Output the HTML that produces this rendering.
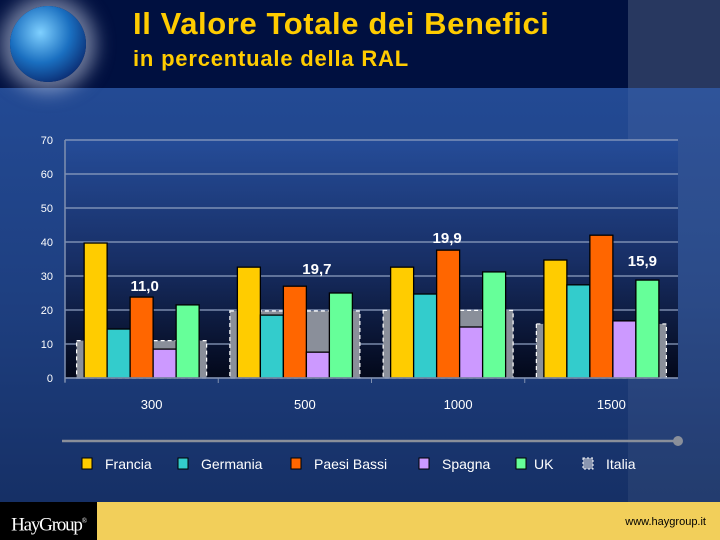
<!DOCTYPE html>
<html><head><meta charset="utf-8"><style>
html,body{margin:0;width:720px;height:540px;overflow:hidden}
body{font-family:"Liberation Sans",sans-serif;background:linear-gradient(#234a94 88px,#1e3f80 300px,#163066 500px);position:relative}
.hdr{position:absolute;left:0;top:0;width:628px;height:88px;background:#001040}
.hdr2{position:absolute;left:628px;top:0;width:92px;height:88px;background:#283860}
.strip{position:absolute;left:628px;top:88px;width:92px;height:414px;background:rgba(255,255,255,0.06)}
.t1{position:absolute;left:133px;top:6px;color:#ffcc00;font-weight:bold;font-size:31px;letter-spacing:0.6px}
.t2{position:absolute;left:133px;top:46px;color:#ffcc00;font-weight:bold;font-size:22px;letter-spacing:0.8px}
.globe{position:absolute;left:10px;top:6px;width:76px;height:76px;border-radius:50%;background:radial-gradient(circle at 40% 35%,#7fd0ff,#1a6fc0 45%,#0a2a70 80%);box-shadow:0 0 18px 10px rgba(200,210,230,0.55)}
.foot{position:absolute;left:0;top:502px;width:720px;height:38px;background:#f2cf5a}
.logo{position:absolute;left:0;top:502px;width:97px;height:38px;background:#000;color:#fff;font-family:"Liberation Serif",serif;font-size:19px;line-height:38px;text-align:center;letter-spacing:-1.2px}
.url{position:absolute;right:14px;top:516px;font-size:11px;color:#000}
</style></head><body>
<div class="hdr"></div>
<div class="hdr2"></div>
<div class="strip"></div>
<div class="globe"></div>
<div class="t1">Il Valore Totale dei Benefici</div>
<div class="t2">in percentuale della RAL</div>
<svg id="chart" width="720" height="540" style="position:absolute;left:0;top:0">
<defs><linearGradient id="pg" x1="0" y1="0" x2="0" y2="1"><stop offset="0" stop-color="#254c98"/><stop offset="0.5" stop-color="#182f66"/><stop offset="1" stop-color="#03081a"/></linearGradient></defs>
</svg>
<div class="foot"></div>
<div class="logo">HayGroup<sup style="font-size:7px">®</sup></div>
<div class="url">www.haygroup.it</div>
<script>
const categories=["300","500","1000","1500"];
const francia=[39.7,32.6,32.6,34.7];
const germania=[14.4,18.5,24.7,27.4];
const paesiBassi=[23.8,27.0,37.6,42.0];
const spagna=[8.5,7.6,15.0,16.8];
const uk=[21.5,25.0,31.2,28.8];
const italia=[11.0,19.7,19.9,15.9];
const italiaLabels=["11,0","19,7","19,9","15,9"];
const yTicks=[0,10,20,30,40,50,60,70];
const seriesNames=["Francia","Germania","Paesi Bassi","Spagna","UK","Italia"];
const NS="http://www.w3.org/2000/svg";
const svg=document.getElementById('chart');
const X0=65,X1=678,Y0=378,Y1=140;
const y=v=>Y0-(v/70)*(Y0-Y1);
const gw=(X1-X0)/categories.length;
const cx=i=>X0+gw*(i+0.5);
const labelDx=[3,22,-1,41];
const labelY=[291,274,243,266];
function mk(t,a){const e=document.createElementNS(NS,t);for(const k in a)e.setAttribute(k,a[k]);svg.appendChild(e);return e;}
let e=mk('rect',{x:X0,y:Y1,width:X1-X0,height:Y0-Y1,fill:'url(#pg)'});


yTicks.forEach(t=>{
 const l=mk('line',{x1:X0,x2:X1,y1:y(t),y2:y(t),stroke:'#8fa0c0','stroke-width':1.3});
 
 
 const tx=mk('text',{x:53,y:y(t)+4,fill:'#fff','font-size':11,'text-anchor':'end','font-family':'Liberation Sans'});
 tx.textContent=t;
 
 
});
e=mk('line',{x1:X0,x2:X0,y1:Y1,y2:Y0+4,stroke:'#8090b0','stroke-width':1.5});


const series=[francia,germania,paesiBassi,spagna,uk];
const colors=["#ffcc00","#33cccc","#ff6600","#cc99ff","#66ff99"];
const bw=23;
categories.forEach((c,i)=>{
 const it=mk('rect',{x:cx(i)-65,y:y(italia[i]),width:130,height:Y0-y(italia[i]),fill:'#8a8f9a',stroke:'#fff','stroke-dasharray':'4,3','stroke-width':1.2});
 
 
 series.forEach((s,j)=>{
  const b=mk('rect',{x:cx(i)-57.5+j*bw,y:y(s[i]),width:bw,height:Y0-y(s[i]),fill:colors[j],stroke:'#000','stroke-width':1.3});
  
  
 });
 const lb=mk('text',{x:cx(i)+labelDx[i],y:labelY[i],fill:'#fff','font-size':15,'font-weight':'bold','text-anchor':'middle','font-family':'Liberation Sans'});
 lb.textContent=italiaLabels[i];
 
 
 const cl=mk('text',{x:cx(i)+10,y:409,fill:'#fff','font-size':13,'text-anchor':'middle','font-family':'Liberation Sans'});
 cl.textContent=c;
 
 
 const tk=mk('line',{x1:X0+gw*i,x2:X0+gw*i,y1:Y0,y2:Y0+5,stroke:'#8090b0'});
 
 
});
e=mk('line',{x1:X0,x2:X1,y1:Y0,y2:Y0,stroke:'#8090b0','stroke-width':1.5});


e=mk('line',{x1:62,x2:678,y1:441,y2:441,stroke:'#8a8f9a','stroke-width':2.5});


e=mk('circle',{cx:678,cy:441,r:5,fill:'#8a8f9a'});


const legX=[82,178,291,419,516,583];
const legColors=colors.concat(['#8a96b0']);
seriesNames.forEach((n,j)=>{
 const r=mk('rect',{x:legX[j],y:458,width:10,height:11,fill:legColors[j],stroke:j==5?'#fff':'#000','stroke-dasharray':j==5?'2,2':'','stroke-width':1});
 
 
 const t=mk('text',{x:legX[j]+(j==4?18:23),y:469,fill:'#fff','font-size':14,'font-family':'Liberation Sans'});
 t.textContent=n;
 
 
});
</script>
</body></html>
